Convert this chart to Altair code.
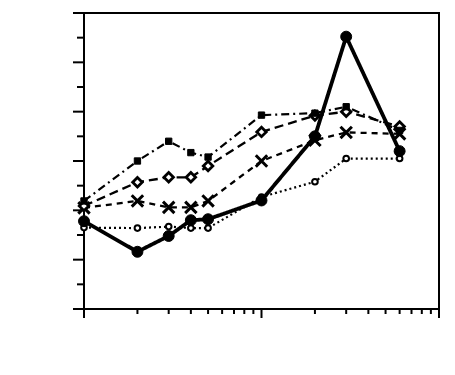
import altair as alt
import pandas as pd

# Presentation times (s)
times = [1, 2, 3, 4, 5, 10, 20, 30, 60]

# Series values (number of chunks)
solid_circles = [1.78, 1.16, 1.48, 1.80, 1.82, 2.20, 3.50, 5.52, 3.20]
dashdot_squares = [2.19, 3.00, 3.40, 3.17, 3.08, 3.93, 3.97, 4.10, 3.62]
dashed_diamonds = [2.09, 2.57, 2.67, 2.67, 2.90, 3.59, 3.92, 4.00, 3.70]
shortdash_crosses = [2.05, 2.19, 2.06, 2.06, 2.19, 3.00, 3.42, 3.58, 3.55]
dotted_circles = [1.65, 1.64, 1.67, 1.64, 1.64, 2.27, 2.58, 3.05, 3.05]

# Axis tick positions
x_major = [1, 10, 100]
x_minor = [2, 3, 4, 5, 6, 7, 8, 9, 20, 30, 40, 50, 60, 70, 80, 90]
y_major = [0, 1, 2, 3, 4, 5, 6]
y_minor = [0.5, 1.5, 2.5, 3.5, 4.5, 5.5]

LFONT = "Liberation Sans"
TFONT = "DejaVu Sans"
W, H = 355, 296

xscale = alt.Scale(type="log", domain=[1, 100], nice=False)
yscale = alt.Scale(domain=[0, 6], nice=False, zero=False)

x_axis = alt.Axis(
    orient="bottom", values=x_major, format="d", tickSize=9,
    tickColor="black", tickWidth=2, grid=False, labelOverlap=False,
    domainColor="black", domainWidth=2,
    labelFont=LFONT, labelFontSize=16, labelColor="#444", labelPadding=12,
    labelFlush=False,
    labelAlign={"condition": {"test": "datum.value == 100", "value": "right"}, "value": "center"},
    labelOffset={"condition": {"test": "datum.value == 100", "value": 7}, "value": 0},
    title="Presentation time in seconds (log scale)",
    titleFont=TFONT, titleFontSize=16, titleFontWeight="bold", titleColor="#333",
    titleAnchor="start", titleAlign="left", titleBaseline="middle",
    titleX=-47, titleY=55,
)
y_axis = alt.Axis(
    orient="left", values=y_major, format="d", tickSize=11,
    tickColor="black", tickWidth=2, grid=False, labelOverlap=False,
    domainColor="black", domainWidth=2,
    labelFont=LFONT, labelFontSize=16, labelColor="#444", labelPadding=17,
    labelFlush=False,
    labelOffset={"condition": {"test": "datum.value == 6", "value": 3}, "value": 0},
    title="Number of chunks",
    titleFont=TFONT, titleFontSize=16, titleFontWeight="bold", titleColor="#333",
    titleAngle=270, titleAlign="center", titleBaseline="middle",
    titleX=-66, titleY=143,
)


def frame(vals):
    return pd.DataFrame({"t": times, "v": vals})


def enc(first=False):
    return dict(
        x=alt.X("t:Q", scale=xscale, axis=x_axis if first else None),
        y=alt.Y("v:Q", scale=yscale, axis=y_axis if first else None),
    )


def line_layer(vals, dash, width, first=False):
    return alt.Chart(frame(vals)).mark_line(
        color="black", strokeWidth=width, strokeDash=dash
    ).encode(**enc(first))


def point_layer(vals, **kw):
    return alt.Chart(frame(vals)).mark_point(opacity=1, **kw).encode(**enc())


def x_tick_layer(vals, length):
    return alt.Chart(pd.DataFrame({"t": vals})).mark_rule(
        color="black", strokeWidth=2
    ).encode(
        x=alt.X("t:Q", scale=xscale, axis=None),
        y=alt.value(H), y2=alt.value(H + length),
    )


def y_tick_layer(vals, length):
    return alt.Chart(pd.DataFrame({"v": vals})).mark_rule(
        color="black", strokeWidth=2
    ).encode(
        y=alt.Y("v:Q", scale=yscale, axis=None),
        x=alt.value(0), x2=alt.value(-length),
    )


X_PATH = "M-1,-1L1,1M-1,1L1,-1"

layers = [
    line_layer(dotted_circles, [2, 3], 2.2, first=True),
    x_tick_layer(x_major, 9),
    x_tick_layer(x_minor, 5),
    y_tick_layer(y_major, 11),
    y_tick_layer(y_minor, 7),
    point_layer(dotted_circles, shape="circle", size=32, filled=True, fill="white", stroke="black", strokeWidth=2),
    line_layer(shortdash_crosses, [6, 5], 2.3),
    point_layer(shortdash_crosses, shape=X_PATH, size=130, filled=False, stroke="black", strokeWidth=3),
    line_layer(dashed_diamonds, [9, 5], 2.3),
    point_layer(dashed_diamonds, shape="diamond", size=90, filled=True, fill="white", stroke="black", strokeWidth=2.8),
    line_layer(dashdot_squares, [8, 4, 2, 4], 2.2),
    point_layer(dashdot_squares, shape="square", size=40, filled=True, fill="black", stroke="black", strokeWidth=1),
    line_layer(solid_circles, [1, 0], 3.8),
    point_layer(solid_circles, shape="circle", size=120, filled=True, fill="black", stroke="black", strokeWidth=1),
]

chart = alt.layer(*layers).properties(
    width=W,
    height=H,
    autosize=alt.AutoSizeParams(type="none"),
    padding={"left": 76, "top": 5, "right": 8, "bottom": 64},
    background="white",
).configure_view(stroke="black", strokeWidth=2)

chart.save("out.html", embed_options={"renderer": "svg", "actions": False})
